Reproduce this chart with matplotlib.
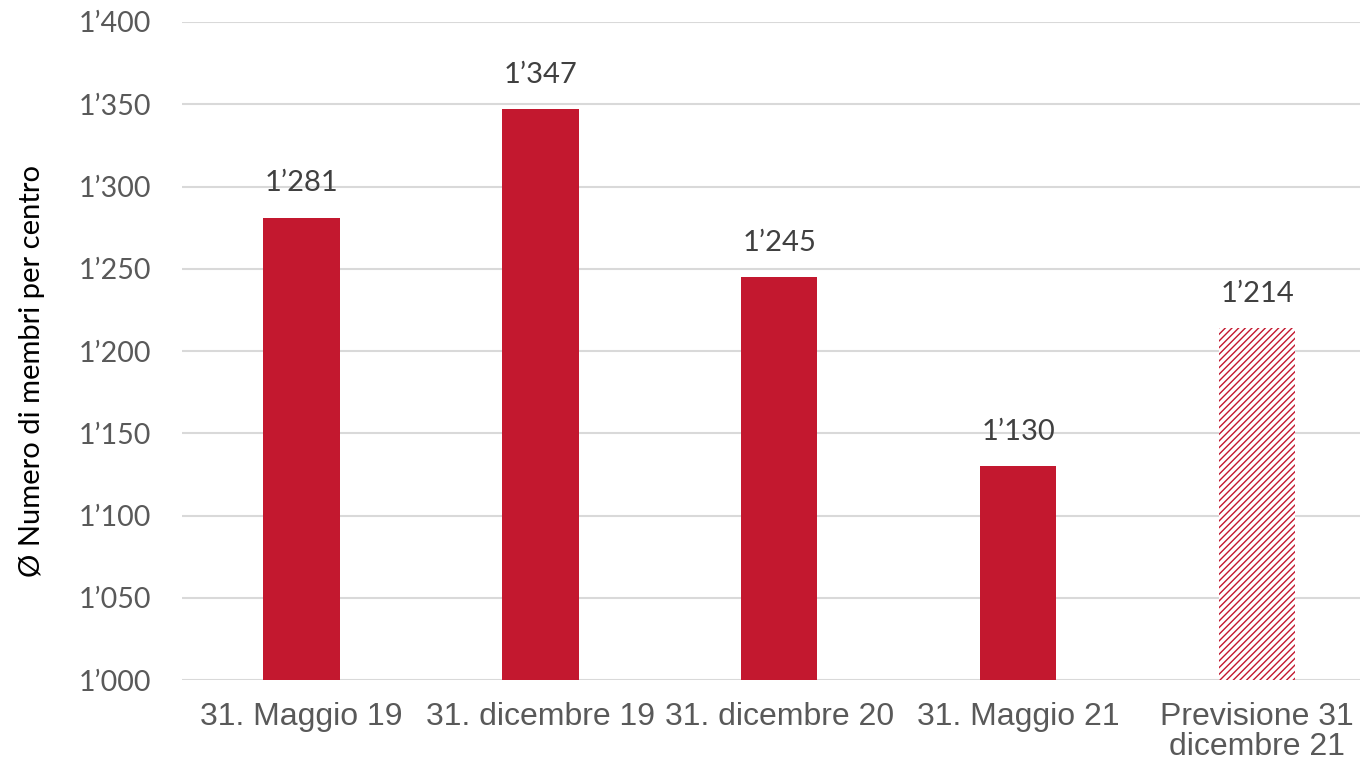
import matplotlib.pyplot as plt
from matplotlib.ticker import FuncFormatter

categories = ['31. Maggio 19', '31. dicembre 19', '31. dicembre 20',
              '31. Maggio 21', 'Previsione 31\ndicembre 21']
values = [1281, 1347, 1245, 1130, 1214]
forecast = [False, False, False, False, True]
y_ticks = [1000, 1050, 1100, 1150, 1200, 1250, 1300, 1350, 1400]

red = '#C3182F'


def fmt(v):
    return f'{int(v) // 1000}\u2019{int(v) % 1000:03d}'


plt.rcParams['hatch.linewidth'] = 1.0
fig = plt.figure(figsize=(13.6, 7.69), dpi=100)
ax = fig.add_axes([0.1338, 0.1157, 0.8783, 0.8557])

x = list(range(len(categories)))
for i, (v, f) in enumerate(zip(values, forecast)):
    if f:
        ax.bar(i, v - 1000, bottom=1000, width=0.32, facecolor='white',
               edgecolor=red, hatch='/////', linewidth=0, zorder=3)
    else:
        ax.bar(i, v - 1000, bottom=1000, width=0.32, color=red, zorder=3)
    ax.annotate(fmt(v), (i, v), xytext=(0, 19), textcoords='offset points',
                ha='center', va='baseline', fontsize=21, family='Lato',
                color='#404040')

ax.set_xlim(-0.5, len(categories) - 0.5)
ax.set_ylim(1000, 1400)
ax.set_yticks(y_ticks)
ax.yaxis.set_major_formatter(FuncFormatter(lambda v, p: fmt(v)))
ax.set_xticks(x)
ax.set_xticklabels(categories, fontsize=23, family='Liberation Sans',
                   color='#595959', linespacing=0.98)
for lab in ax.get_yticklabels():
    lab.set_family('Lato')
    lab.set_fontsize(20.5)
    lab.set_color('#595959')
ax.tick_params(axis='both', length=0)
ax.tick_params(axis='y', pad=22)
ax.tick_params(axis='x', pad=16)
ax.grid(axis='y', color='#D9D9D9', linewidth=1.5, zorder=0)
for s in ax.spines.values():
    s.set_visible(False)
ax.set_ylabel('\u00d8 Numero di membri per centro', fontsize=21,
              family='Lato', color='black')
ax.yaxis.set_label_coords(-0.1145, 0.47)

fig.savefig('out.png', dpi=100)
